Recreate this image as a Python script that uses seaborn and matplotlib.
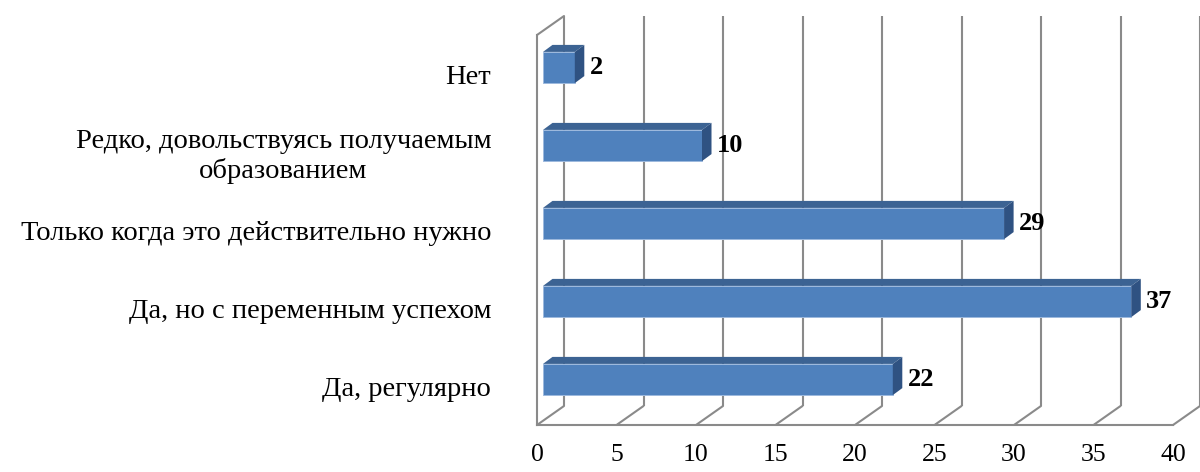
import matplotlib
matplotlib.use("Agg")
import matplotlib.pyplot as plt
import seaborn as sns
import pandas as pd
from matplotlib.transforms import offset_copy
from matplotlib.patches import Polygon

# ---- data (top-to-bottom order) ----
categories = [
    "Нет",
    "Редко, довольствуясь получаемым\nобразованием",
    "Только когда это действительно нужно",
    "Да, но с переменным успехом",
    "Да, регулярно",
]
values = [2, 10, 29, 37, 22]
x_ticks = [0, 5, 10, 15, 20, 25, 30, 35, 40]

# ---- style ----
FRONT = "#4F81BD"
TOP = "#3C6393"
SIDE = "#2F5282"
GRID = "#8A8A8A"
FS_CAT = 20.5
FS_TICK = 18.5
FS_VAL = 19

sns.set_style("white")
plt.rcParams["font.family"] = ["Liberation Serif", "DejaVu Serif"]

fig = plt.figure(figsize=(12, 4.72), dpi=100)
ax = fig.add_axes([537 / 1200, 47 / 472, 636 / 1200, 390 / 472])

df = pd.DataFrame({"cat": categories, "val": values})
sns.barplot(data=df, x="val", y="cat", orient="h", width=0.4, color=FRONT,
            saturation=1, ax=ax, zorder=3, edgecolor="#9DB9DE", linewidth=0.7)

ax.set_xlim(x_ticks[0], x_ticks[-1])
ax.set_ylim(len(categories) - 0.5, -0.5)

# pixel -> data conversion
p0 = ax.transData.transform((0, 0))
p1 = ax.transData.transform((1, 1))
sx = p1[0] - p0[0]
sy = p1[1] - p0[1]


def d(px, py):
    return px / sx, py / sy


BACK = (27, 19)
BAR_OFF = (6, 6.5)
DEPTH = (9.5, 7)

ytop_ax = -0.5
ybot_ax = len(categories) - 0.5
bx, by = d(*BACK)

# back wall gridlines + floor lines
for t in x_ticks:
    ax.plot([t + bx, t + bx], [ytop_ax + by, ybot_ax + by], color=GRID,
            lw=1.5, clip_on=False, zorder=1, solid_capstyle="butt")
    ax.plot([t, t + bx], [ybot_ax, ybot_ax + by], color=GRID, lw=1.5,
            clip_on=False, zorder=1)
# left wall top edge
ax.plot([0, bx], [ytop_ax, ytop_ax + by], color=GRID, lw=1.5,
        clip_on=False, zorder=1)

# bars: shift into the depth, add top & side faces
bar_tr = offset_copy(ax.transData, fig=fig, x=BAR_OFF[0], y=BAR_OFF[1], units="dots")
ddx, ddy = d(*DEPTH)
bars = list(ax.patches)
for p, v in zip(bars, values):
    p.set_transform(bar_tr)
    p.set_clip_on(False)
    x0 = p.get_x()
    w = p.get_width()
    ya, yb = p.get_y(), p.get_y() + p.get_height()
    yt, ybm = min(ya, yb), max(ya, yb)
    top = Polygon([(x0, yt), (x0 + w, yt), (x0 + w + ddx, yt + ddy), (x0 + ddx, yt + ddy)],
                  closed=True, facecolor=TOP, edgecolor="none", transform=bar_tr,
                  clip_on=False, zorder=3)
    side = Polygon([(x0 + w, yt), (x0 + w, ybm), (x0 + w + ddx, ybm + ddy), (x0 + w + ddx, yt + ddy)],
                   closed=True, facecolor=SIDE, edgecolor="none", transform=bar_tr,
                   clip_on=False, zorder=3)
    ax.add_patch(top)
    ax.add_patch(side)
    ax.annotate(str(v), xy=(x0 + w, (ya + yb) / 2), xycoords=bar_tr,
                xytext=(15, 0), textcoords="offset pixels", ha="left", va="center",
                fontsize=FS_VAL, fontweight="bold", color="black", zorder=4)

# axes
for s in ["top", "right"]:
    ax.spines[s].set_visible(False)
for s in ["left", "bottom"]:
    ax.spines[s].set_color(GRID)
    ax.spines[s].set_linewidth(1.5)
    ax.spines[s].set_zorder(2)

ax.set_xticks(x_ticks)
ax.set_xticklabels([str(t) for t in x_ticks])
ax.tick_params(axis="x", length=5, width=1.5, color=GRID, pad=9,
               labelsize=FS_TICK, labelcolor="black")
ax.set_yticks(range(len(categories)))
ax.set_yticklabels(categories)
ax.set_yticks([i - 0.5 for i in range(len(categories) + 1)], minor=True)
ax.tick_params(axis="y", which="major", length=0, pad=33, labelsize=FS_CAT, labelcolor="black")
ax.tick_params(axis="y", which="minor", length=5, width=1.5, color=GRID)
for lbl in ax.get_yticklabels():
    lbl.set_multialignment("center")
    lbl.set_linespacing(1.2)
ax.set_xlabel("")
ax.set_ylabel("")
ax.grid(False)

fig.savefig("out.png", dpi=100)
